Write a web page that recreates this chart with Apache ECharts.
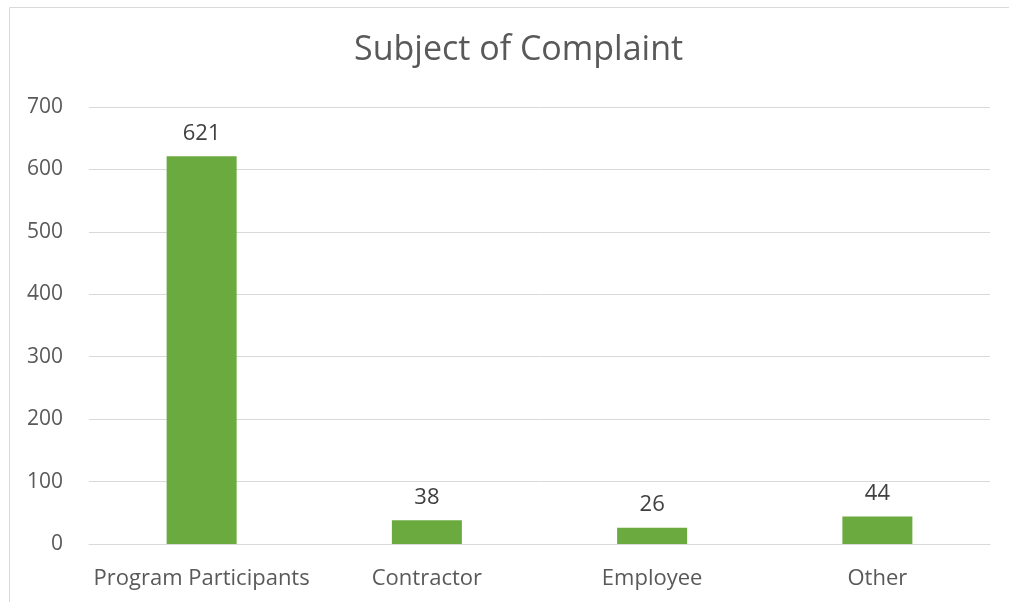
<!DOCTYPE html>
<html>
<head>
<meta charset="utf-8">
<script src="https://cdn.jsdelivr.net/npm/echarts@6/dist/echarts.min.js"></script>
<style>
html,body{margin:0;padding:0;background:#fff;}
#c{width:1009px;height:602px;}
</style>
</head>
<body>
<div id="c"></div>
<script>
var categories = ["Program Participants", "Contractor", "Employee", "Other"];
var values = [621, 38, 26, 44];
var yTicks = [0, 100, 200, 300, 400, 500, 600, 700];

var chart = echarts.init(document.getElementById('c'));
var font = '"Open Sans", sans-serif';
chart.setOption({
  animation: false,
  backgroundColor: '#ffffff',
  title: {
    text: 'Subject of Complaint',
    left: 349,
    top: 28,
    textStyle: { fontFamily: font, fontSize: 34, fontWeight: 'normal', color: '#595959' }
  },
  graphic: [{
    type: 'rect',
    shape: { x: 9.5, y: 7.5, width: 1100, height: 1100 },
    style: { fill: 'none', stroke: '#d9d9d9', lineWidth: 1 },
    silent: true
  }],
  grid: { left: 89, right: 19, top: 107, bottom: 58 },
  xAxis: {
    type: 'category',
    data: categories,
    axisLine: { show: true, lineStyle: { color: '#d9d9d9' } },
    axisTick: { show: false },
    axisLabel: { interval: 0, fontFamily: font, fontSize: 22, color: '#595959', margin: 24 }
  },
  yAxis: {
    type: 'value',
    min: yTicks[0],
    max: yTicks[yTicks.length - 1],
    interval: 100,
    axisLine: { show: false },
    axisTick: { show: false },
    axisLabel: { fontFamily: font, fontSize: 21, color: '#595959', margin: 26 },
    splitLine: { lineStyle: { color: '#d9d9d9', width: 1 } }
  },
  series: [{
    type: 'bar',
    data: values,
    barWidth: 70,
    itemStyle: { color: '#6aaa3f' },
    label: {
      show: true,
      position: 'top',
      distance: 12,
      fontFamily: font,
      fontSize: 22,
      color: '#404040'
    }
  }]
});
</script>
</body>
</html>
